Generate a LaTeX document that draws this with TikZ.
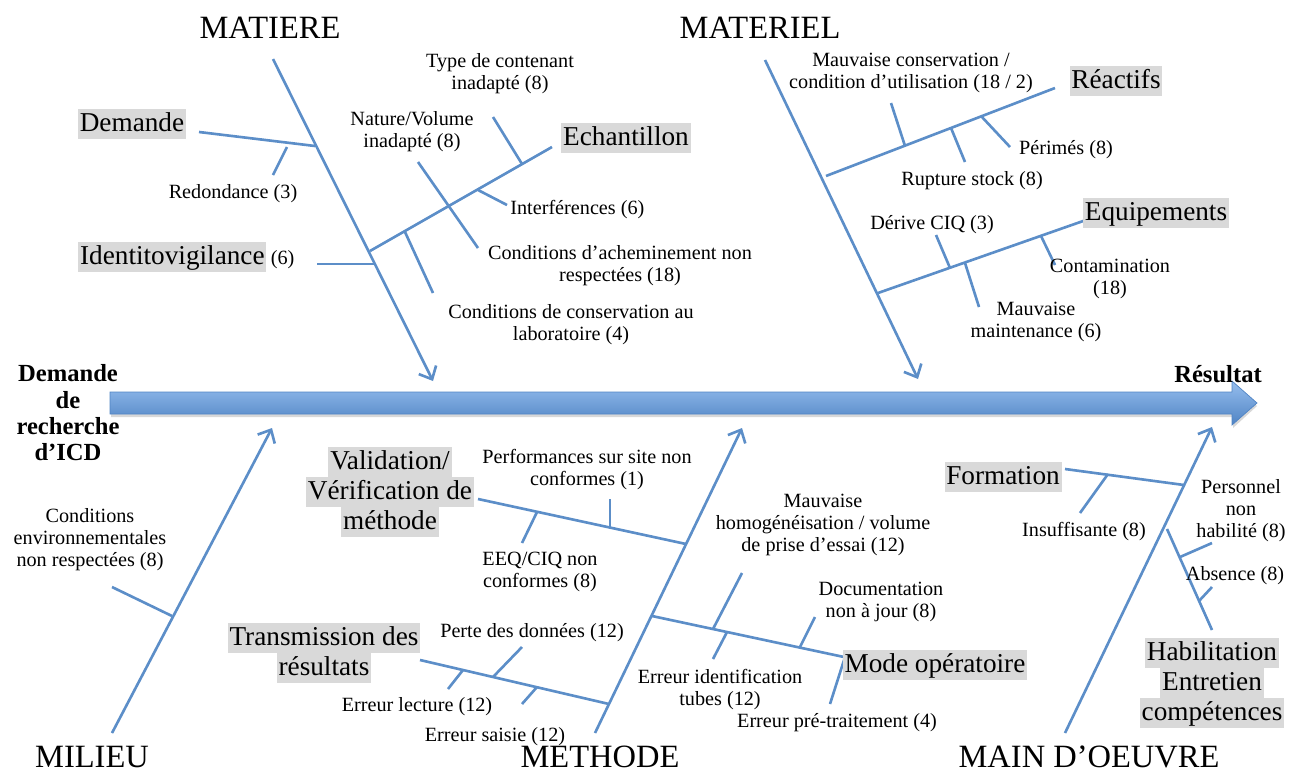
\documentclass[tikz,border=0pt]{standalone}
\usepackage{fontspec}
\setmainfont{Liberation Serif}
\usetikzlibrary{arrows.meta}

\definecolor{fishblue}{RGB}{92,142,200}
\definecolor{labelgray}{RGB}{217,217,217}
\definecolor{arrowlight}{RGB}{150,190,238}
\definecolor{arrowdark}{RGB}{80,132,196}

\newcommand{\itemfont}{\fontsize{11.5}{12.5}\selectfont}
\newcommand{\causefont}{\fontsize{15.5}{17}\selectfont}
\newcommand{\grayhl}[1]{{\setlength{\fboxsep}{0pt}\colorbox{labelgray}{\rule[-0.26em]{0pt}{1.08em}\hspace{1pt}#1\hspace{1pt}}}}
% one small bone between two named points
\newcommand{\twig}[3]{\coordinate (#1-in) at #2; \coordinate (#1-out) at #3; \draw[bone] (#1-in) -- (#1-out);}

\begin{document}
\begin{tikzpicture}[x=0.02cm, y=-0.02cm,
    bone/.style={draw=fishblue, line width=1.5pt},
    spine/.style={bone, -{Straight Barb[length=6pt, width=11pt]}},
    cause/.style={font=\causefont, align=center, inner sep=0pt},
    item/.style={font=\itemfont, align=center, inner sep=0pt},
    title/.style={font=\fontsize{18.5}{20}\selectfont, inner sep=0pt},
    ends/.style={font=\fontsize{14}{15}\selectfont\bfseries, align=center, inner sep=0pt}]

    \useasboundingbox (0,0) rectangle (1300,774);

    % main arrow
    \coordinate (axis-start) at (110,403);
    \coordinate (axis-end) at (1257,403);
    \fill[black!30, opacity=0.5] (111,396) -- (1233,396) -- (1233,385) -- (1257,406) -- (1233,428) -- (1233,417) -- (111,417) -- cycle;
    \shade[top color=arrowlight, bottom color=arrowdark, draw=arrowdark, line width=0.4pt]
        (axis-start) ++(0,-11) -- (1232,392) -- (1232,381) -- (axis-end) -- (1232,425) -- (1232,414) -- (110,414) -- cycle;

    \node[ends] (start) at (68,413) {Demande\\de\\recherche\\d’ICD};
    \node[ends] (result) at (1218,374) {Résultat};

    % spines
    \coordinate (matiere-top) at (273,59);
    \coordinate (matiere-tip) at (433,381);
    \coordinate (materiel-top) at (765,60);
    \coordinate (materiel-tip) at (918,379);
    \coordinate (milieu-foot) at (112,733);
    \coordinate (milieu-tip) at (272,428);
    \coordinate (methode-foot) at (595,733);
    \coordinate (methode-tip) at (742,428);
    \coordinate (mo-foot) at (1065,733);
    \coordinate (mo-tip) at (1212,427);
    \draw[spine] (matiere-top) -- (matiere-tip);
    \draw[spine] (materiel-top) -- (materiel-tip);
    \draw[spine] (milieu-foot) -- (milieu-tip);
    \draw[spine] (methode-foot) -- (methode-tip);
    \draw[spine] (mo-foot) -- (mo-tip);

    \node[title] (matiere) at (270,28) {MATIERE};
    \node[title] (materiel) at (760,28) {MATERIEL};
    \node[title] (milieu) at (92,757) {MILIEU};
    \node[title] (methode) at (600,757) {METHODE};
    \node[title] (mainoeuvre) at (1089,757) {MAIN D’OEUVRE};

    % matiere
    \twig{demande}{(199,132)}{(315,146)}
    \twig{redondance}{(287,147)}{(273,175)}
    \twig{identito}{(317,264)}{(375,264)}
    \twig{echantillon}{(370,251)}{(552,147)}
    \twig{contenant}{(493,117)}{(522,164)}
    \twig{nature}{(418,162)}{(478,248)}
    \twig{interf}{(478,190)}{(507,205)}
    \twig{conserv}{(405,232)}{(433,293)}

    \node[cause] (demande) at (132,124) {\grayhl{Demande}};
    \node[item] (redondance) at (233,194) {Redondance (3)};
    \node[cause, anchor=west] (identito) at (78,257) {\grayhl{Identitovigilance}\,{\itemfont (6)}};
    \node[cause] (echantillon) at (626,138) {\grayhl{Echantillon}};
    \node[item] (contenant) at (500,74) {Type de contenant\\inadapté (8)};
    \node[item] (nature) at (412,132) {Nature/Volume\\inadapté (8)};
    \node[item, anchor=west] (interf) at (510,210) {Interférences (6)};
    \node[item] (achemin) at (620,266) {Conditions d’acheminement non\\respectées (18)};
    \node[item] (conserv) at (571,325) {Conditions de conservation au\\laboratoire (4)};

    % materiel
    \twig{reactifs}{(826,176)}{(1055,88)}
    \twig{mauvcons}{(891,103)}{(905,146)}
    \twig{rupture}{(951,128)}{(965,162)}
    \twig{perimes}{(981,116)}{(1010,147)}
    \twig{equip}{(878,293)}{(1086,220)}
    \twig{derive}{(936,235)}{(950,268)}
    \twig{maint}{(965,263)}{(979,307)}
    \twig{contam}{(1041,236)}{(1055,265)}

    \node[cause] (reactifs) at (1116,81) {\grayhl{Réactifs}};
    \node[item] (mauvcons) at (911,73) {Mauvaise conservation /\\condition d’utilisation (18 / 2)};
    \node[item] (rupture) at (972,181) {Rupture stock (8)};
    \node[item] (perimes) at (1066,150) {Périmés (8)};
    \node[cause] (equip) at (1156,213) {\grayhl{Equipements}};
    \node[item] (derive) at (932,225) {Dérive CIQ (3)};
    \node[item] (contam) at (1110,279) {Contamination\\(18)};
    \node[item] (maint) at (1036,322) {Mauvaise\\maintenance (6)};

    % milieu
    \twig{environ}{(112,587)}{(172,616)}
    \node[item] (environ) at (90,540) {Conditions\\environnementales\\non respectées (8)};

    % methode
    \twig{validation}{(478,499)}{(686,544)}
    \twig{eeq}{(537,512)}{(522,543)}
    \twig{perf}{(610,499)}{(610,527)}
    \twig{mode}{(652,616)}{(858,660)}
    \twig{homog}{(742,573)}{(713,629)}
    \twig{identif}{(727,632)}{(713,659)}
    \twig{doc}{(815,617)}{(800,647)}
    \twig{pretrait}{(845,657)}{(830,704)}
    \twig{transmission}{(420,660)}{(609,704)}
    \twig{perte}{(522,647)}{(493,677)}
    \twig{lecture}{(463,670)}{(448,689)}
    \twig{saisie}{(537,687)}{(522,704)}

    \node[cause] (validation) at (390,492) {\grayhl{Validation/}\\\grayhl{Vérification de}\\\grayhl{méthode}};
    \node[item] (perf) at (587,470) {Performances sur site non\\conformes (1)};
    \node[item] (eeq) at (540,572) {EEQ/CIQ non\\conformes (8)};
    \node[item] (homog) at (823,525) {Mauvaise\\homogénéisation / volume\\de prise d’essai (12)};
    \node[item] (doc) at (881,602) {Documentation\\non à jour (8)};
    \node[cause] (mode) at (935,665) {\grayhl{Mode opératoire}};
    \node[item] (identif) at (720,690) {Erreur identification\\tubes (12)};
    \node[item] (pretrait) at (837,723) {Erreur pré-traitement (4)};
    \node[cause] (transmission) at (324,653) {\grayhl{Transmission des}\\\grayhl{résultats}};
    \node[item] (perte) at (532,633) {Perte des données (12)};
    \node[item] (lecture) at (417,707) {Erreur lecture (12)};
    \node[item] (saisie) at (495,737) {Erreur saisie (12)};

    % main d'oeuvre
    \twig{formation}{(1065,469)}{(1184,485)}
    \twig{insuff}{(1108,474)}{(1080,513)}
    \twig{habil}{(1167,529)}{(1212,630)}
    \twig{personnel}{(1212,543)}{(1180,557)}
    \twig{absence}{(1212,587)}{(1199,601)}

    \node[cause] (formation) at (1003,477) {\grayhl{Formation}};
    \node[item] (insuff) at (1084,532) {Insuffisante (8)};
    \node[item] (personnel) at (1241,511) {Personnel\\non\\habilité (8)};
    \node[item] (absence) at (1235,576) {Absence (8)};
    \node[cause] (habil) at (1212,683) {\grayhl{Habilitation}\\\grayhl{Entretien}\\\grayhl{compétences}};
\end{tikzpicture}
\end{document}
